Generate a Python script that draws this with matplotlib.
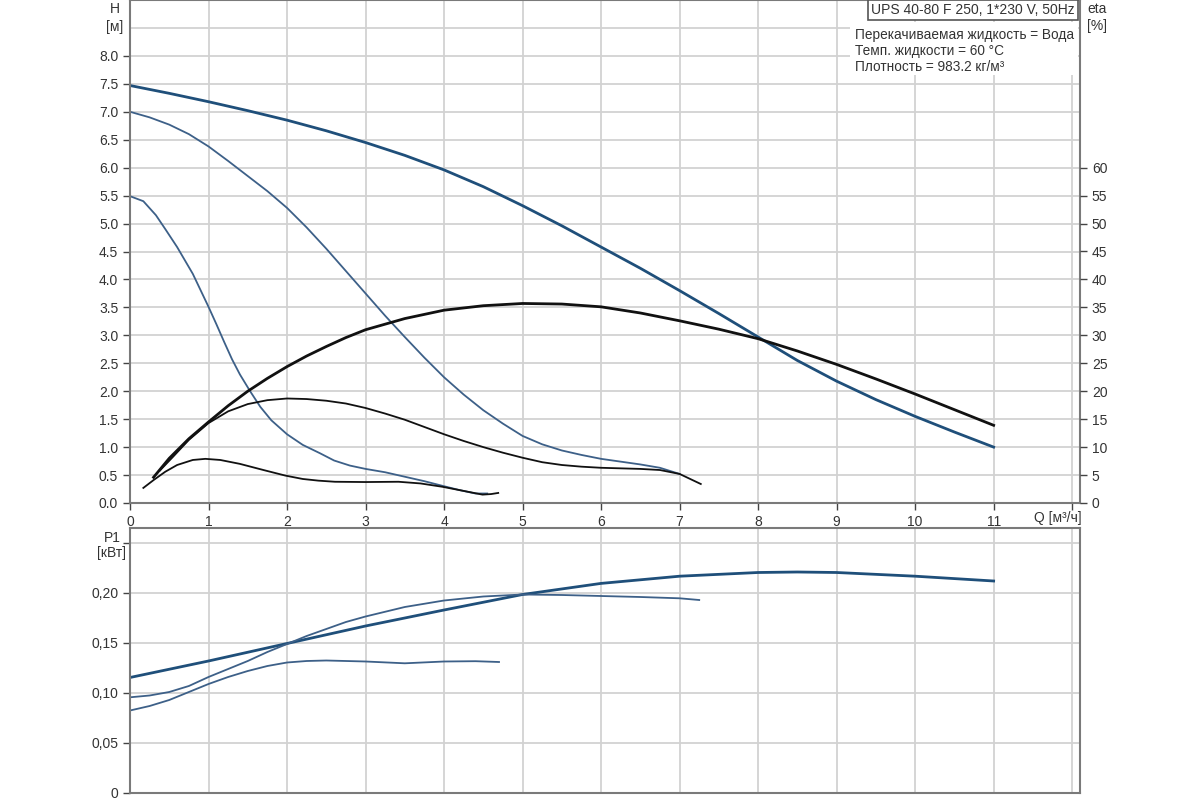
import numpy as np
import matplotlib.pyplot as plt

plt.rcParams['font.family'] = ['Liberation Sans', 'DejaVu Sans']

# --- данные ---
# напор H [м], три скорости
q_h3 = [0, 0.5, 1.0, 1.5, 2.0, 2.5, 3.0, 3.5, 4.0, 4.5, 5.0, 5.5, 6.0, 6.5, 7.0, 7.5, 8.0, 8.5, 9.0, 9.5, 10.0, 10.5, 11.0]
h3 = [7.47, 7.33, 7.18, 7.02, 6.85, 6.66, 6.45, 6.22, 5.96, 5.66, 5.32, 4.96, 4.58, 4.20, 3.80, 3.39, 2.97, 2.55, 2.18, 1.85, 1.55, 1.27, 1.0]
q_h2 = [0, 0.25, 0.5, 0.75, 1.0, 1.25, 1.5, 1.75, 2.0, 2.25, 2.5, 2.75, 3.0, 3.25, 3.5, 3.75, 4.0, 4.25, 4.5,
        4.75, 5.0, 5.25, 5.5, 5.75, 6.0, 6.25, 6.5, 6.75, 7.0]
h2 = [7.0, 6.9, 6.77, 6.6, 6.38, 6.12, 5.85, 5.58, 5.28, 4.93, 4.55, 4.15, 3.75, 3.35, 2.97, 2.6, 2.25, 1.94, 1.66,
      1.42, 1.2, 1.05, 0.94, 0.86, 0.79, 0.74, 0.69, 0.63, 0.52]
q_h1 = [0, 0.17, 0.33, 0.45, 0.6, 0.8, 1.0, 1.1, 1.2, 1.3, 1.4, 1.53, 1.66, 1.8, 2.0, 2.2, 2.42, 2.6, 2.8, 3.0, 3.25,
        3.5, 3.75, 4.0, 4.2, 4.4, 4.55]
h1 = [5.49, 5.40, 5.15, 4.9, 4.58, 4.1, 3.51, 3.2, 2.88, 2.57, 2.3, 2.0, 1.72, 1.48, 1.23, 1.04, 0.89, 0.76, 0.67,
      0.61, 0.55, 0.47, 0.39, 0.30, 0.23, 0.17, 0.17]

# КПД eta [%]
q_e3 = [0.3, 0.5, 0.75, 1.0, 1.25, 1.5, 1.75, 2.0, 2.25, 2.5, 2.75, 3.0, 3.5, 4.0, 4.5, 5.0, 5.5, 6.0, 6.5, 7.0,
        7.5, 8.0, 8.5, 9.0, 9.5, 10.0, 10.5, 11.0]
e3 = [4.6, 8.0, 11.5, 14.5, 17.4, 20.0, 22.3, 24.4, 26.3, 28.0, 29.6, 31.0, 33.0, 34.5, 35.3, 35.7, 35.6, 35.1, 34.0,
      32.6, 31.1, 29.4, 27.2, 24.8, 22.2, 19.5, 16.7, 13.9]
q_e2 = [0.38, 0.55, 0.75, 1.0, 1.25, 1.5, 1.75, 2.0, 2.25, 2.5, 2.75, 3.0, 3.25, 3.5, 3.75, 4.0, 4.25, 4.5, 4.75,
        5.0, 5.25, 5.5, 5.75, 6.0, 6.5, 6.75, 7.0, 7.27]
e2 = [5.8, 8.3, 11.3, 14.3, 16.4, 17.7, 18.4, 18.7, 18.6, 18.3, 17.8, 17.0, 16.0, 14.9, 13.6, 12.3, 11.1, 10.0, 9.0,
      8.1, 7.3, 6.8, 6.5, 6.3, 6.1, 5.9, 5.2, 3.4]
q_e1 = [0.17, 0.3, 0.45, 0.6, 0.8, 0.96, 1.15, 1.4, 1.7, 1.98, 2.2, 2.4, 2.61, 3.0, 3.42, 3.7, 3.98, 4.2, 4.49, 4.6, 4.69]
e1 = [2.7, 4.1, 5.6, 6.8, 7.7, 7.9, 7.7, 7.0, 5.9, 4.9, 4.3, 4.0, 3.8, 3.75, 3.8, 3.5, 2.9, 2.3, 1.5, 1.6, 1.8]

# потребляемая мощность P1 [кВт]
q_p3 = [0, 1, 2, 3, 4, 5, 6, 7, 8, 8.5, 9, 10, 11]
p3 = [0.1155, 0.132, 0.1495, 0.167, 0.183, 0.1985, 0.2096, 0.2168, 0.2205, 0.221, 0.2205, 0.2168, 0.212]
q_p2 = [0, 0.25, 0.5, 0.75, 1.0, 1.25, 1.5, 1.75, 2.0, 2.25, 2.5, 2.75, 3.0, 3.5, 4.0, 4.5, 5.0, 5.5, 6.0, 6.5, 7.0, 7.25]
p2 = [0.0957, 0.0975, 0.101, 0.107, 0.116, 0.124, 0.132, 0.141, 0.149, 0.157, 0.164, 0.171, 0.1765, 0.186, 0.1925,
      0.1965, 0.1985, 0.198, 0.197, 0.196, 0.1947, 0.193]
q_p1 = [0, 0.25, 0.5, 0.75, 1.0, 1.25, 1.5, 1.75, 2.0, 2.25, 2.5, 3.0, 3.5, 4.0, 4.4, 4.7]
p1 = [0.0825, 0.087, 0.093, 0.101, 0.109, 0.116, 0.122, 0.127, 0.1305, 0.132, 0.1325, 0.1315, 0.1297, 0.1315, 0.1318, 0.131]

blue_dark = '#1f4f7a'
blue = '#3d6088'
txt = '#333333'
grid_c = '#d2d2d2'
spine_c = '#7a7a7a'

fig = plt.figure(figsize=(12, 8), dpi=100)
ax = fig.add_axes([130/1200, 1 - 503/800, 950/1200, 503/800])
ax2 = fig.add_axes([130/1200, 1 - 793/800, 950/1200, 265/800])

for a in (ax, ax2):
    a.set_xlim(0, 12.1)
    a.set_xticks(np.arange(0, 13, 1))
    a.grid(True, color=grid_c, linewidth=1.3)
    a.set_axisbelow(True)
    for s in a.spines.values():
        s.set_color(spine_c)
        s.set_linewidth(1.5)
    a.tick_params(colors='#444444', labelcolor=txt, labelsize=10, length=5, width=1)

# верхний график
ax.set_ylim(0, 9.0)
ax.set_yticks(np.arange(0, 8.01, 0.5))
ax.set_yticklabels([f'{v:.1f}' for v in np.arange(0, 8.01, 0.5)])
ax.axhline(8.5, color=grid_c, linewidth=1.3, zorder=0)
ax.set_xticklabels([str(i) for i in range(12)] + [''])

ax.plot(q_h3, h3, color=blue_dark, linewidth=2.0)
ax.plot(q_h2, h2, color=blue, linewidth=1.3)
ax.plot(q_h1, h1, color=blue, linewidth=1.3)

axe = ax.twinx()
axe.set_position(ax.get_position())
axe.set_ylim(0, 90)
axe.set_yticks(np.arange(0, 61, 5))
axe.tick_params(colors='#444444', labelcolor=txt, labelsize=10, length=5, width=1)
for s in axe.spines.values():
    s.set_visible(False)
axe.plot(q_e3, e3, color='#111111', linewidth=2.0)
axe.plot(q_e2, e2, color='#111111', linewidth=1.3)
axe.plot(q_e1, e1, color='#111111', linewidth=1.3)

# нижний график
ax2.set_ylim(0, 0.265)
ax2.set_yticks(np.arange(0, 0.251, 0.05))
ax2.set_yticklabels(['0', '0,05', '0,10', '0,15', '0,20', ''])
ax2.set_xticklabels([])
ax2.tick_params(axis='x', length=0)
ax2.plot(q_p3, p3, color=blue_dark, linewidth=2.0)
ax2.plot(q_p2, p2, color=blue, linewidth=1.3)
ax2.plot(q_p1, p1, color=blue, linewidth=1.3)

# подписи осей
fig.text(115/1200, 1 - 9/800, 'H', ha='center', va='center', fontsize=10, color=txt)
fig.text(115/1200, 1 - 27/800, '[м]', ha='center', va='center', fontsize=10, color=txt)
fig.text(1097/1200, 1 - 9/800, 'eta', ha='center', va='center', fontsize=10, color=txt)
fig.text(1097/1200, 1 - 26/800, '[%]', ha='center', va='center', fontsize=10, color=txt)
fig.text(1058/1200, 1 - 518/800, 'Q [м³/ч]', ha='center', va='center', fontsize=10, color=txt)
fig.text(112/1200, 1 - 538/800, 'P1', ha='center', va='center', fontsize=10, color=txt)
fig.text(112/1200, 1 - 553/800, '[кВт]', ha='center', va='center', fontsize=10, color=txt)

# информация о насосе
fig.text(1075/1200, 1 - 10/800, 'UPS 40-80 F 250, 1*230 V, 50Hz', ha='right', va='center',
         fontsize=10, color=txt,
         bbox=dict(boxstyle='square,pad=0.25', facecolor='white', edgecolor='#555555', linewidth=1.2))
fig.patches.append(plt.Rectangle((850/1200, 1 - 75/800), 228/1200, 53/800,
                                 transform=fig.transFigure, facecolor='white', edgecolor='none', zorder=1))
info = ['Перекачиваемая жидкость = Вода', 'Темп. жидкости = 60 °C', 'Плотность = 983.2 кг/м³']
for i, line in enumerate(info):
    fig.text(855/1200, 1 - (35 + 16 * i)/800, line, ha='left', va='center', fontsize=9.8, color=txt, zorder=3)

fig.savefig('out.png', dpi=100)
